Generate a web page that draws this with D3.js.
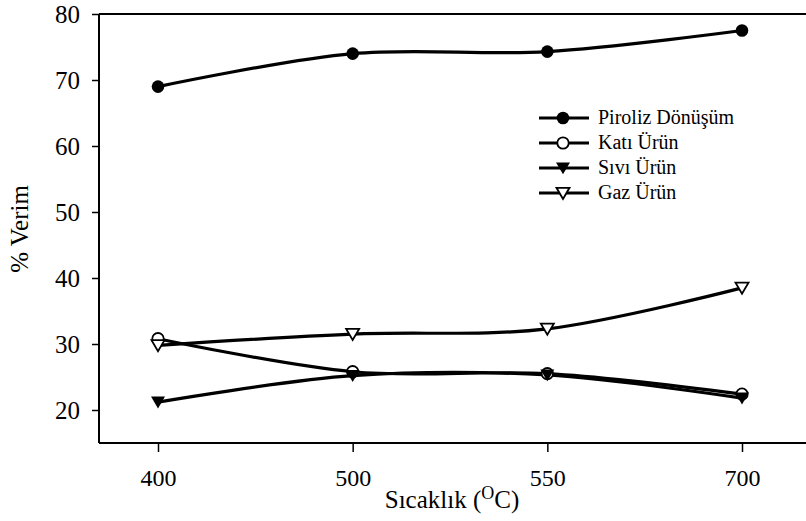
<!DOCTYPE html>
<html><head><meta charset="utf-8">
<script src="https://cdn.jsdelivr.net/npm/d3@7"></script>
<style>body{margin:0;background:#fff}svg{display:block}text{font-family:"Liberation Serif","Times New Roman",serif;fill:#000}</style>
</head><body><svg id="c" width="806" height="521"></svg>
<script>
const categories = ["400","500","550","700"];
const piroliz = [69.0, 74.0, 74.3, 77.5];
const kati = [30.8, 25.8, 25.5, 22.4];
const sivi = [21.2, 25.2, 25.3, 21.8];
const gaz = [29.8, 31.5, 32.3, 38.5];
const yTicks = [20,30,40,50,60,70,80];
const seriesNames = ["Piroliz Dönüşüm","Katı Ürün","Sıvı Ürün","Gaz Ürün"];

const svg = d3.select("#c");
const L=99, R=806, T=14, B=443;
const x = d3.scalePoint().domain(categories).range([158,742]);
const y = d3.scaleLinear().domain([15,80]).range([B,T]);

svg.append("line").attr("x1",L).attr("x2",R).attr("y1",T).attr("y2",T).attr("stroke","#000").attr("stroke-width",2);
const yAx = svg.append("g").attr("transform",`translate(${L},0)`)
  .call(d3.axisLeft(y).tickValues(yTicks).tickSize(7).tickPadding(12));
yAx.attr("font-family",null);
yAx.select(".domain").attr("d",`M0,${T}V${B}`).attr("stroke-width",2);
yAx.selectAll(".tick line").attr("stroke-width",1.5);
yAx.selectAll("text").attr("font-size",25).attr("dy","0.35em");
const xAx = svg.append("g").attr("transform",`translate(0,${B})`)
  .call(d3.axisBottom(x).tickSize(9).tickPadding(17));
xAx.attr("font-family",null);
xAx.select(".domain").attr("d",`M${L},0H${R}`).attr("stroke-width",2);
xAx.selectAll(".tick line").attr("stroke-width",1.5);
xAx.selectAll("text").attr("font-size",24).attr("dy","0.71em");

const xt = svg.append("text").attr("x",452).attr("y",508).attr("text-anchor","middle").attr("font-size",25);
xt.append("tspan").text("Sıcaklık (");
xt.append("tspan").attr("font-size",18).attr("dy",-9).text("O");
xt.append("tspan").attr("dy",9).text("C)");
svg.append("text").attr("transform","translate(28,229) rotate(-90)").attr("text-anchor","middle").attr("font-size",25).text("% Verim");

const data = [piroliz,kati,sivi,gaz];
const line = d3.line().x((d,i)=>x(categories[i])).y(d=>y(d)).curve(d3.curveCatmullRom.alpha(0.5));
const tri = (cx,cy,s)=> `M${cx-s},${cy-s*0.8}L${cx+s},${cy-s*0.8}L${cx},${cy+s*0.9}Z`;
function marker(g,k,cx,cy){
  if(k===0) g.append("circle").attr("cx",cx).attr("cy",cy).attr("r",6.3).attr("fill","#000");
  else if(k===1) g.append("circle").attr("cx",cx).attr("cy",cy).attr("r",5.7).attr("fill","#fff").attr("stroke","#000").attr("stroke-width",1.8);
  else if(k===2) g.append("path").attr("d",tri(cx,cy,7)).attr("fill","#000");
  else g.append("path").attr("d",tri(cx,cy,6.5)).attr("fill","#fff").attr("stroke","#000").attr("stroke-width",1.8);
}
data.forEach((s,k)=>{
  svg.append("path").attr("d",line(s)).attr("fill","none").attr("stroke","#000").attr("stroke-width",3.2);
});
data.forEach((s,k)=>{
  const g=svg.append("g");
  s.forEach((v,i)=>marker(g,k,x(categories[i]),y(v)));
});
seriesNames.forEach((n,k)=>{
  const ly=118+k*25;
  const g=svg.append("g");
  g.append("line").attr("x1",539).attr("x2",589).attr("y1",ly).attr("y2",ly).attr("stroke","#000").attr("stroke-width",3.2);
  marker(g,k,563,ly);
  g.append("text").attr("x",598).attr("y",ly+6).attr("font-size",20).text(n);
});
</script></body></html>
